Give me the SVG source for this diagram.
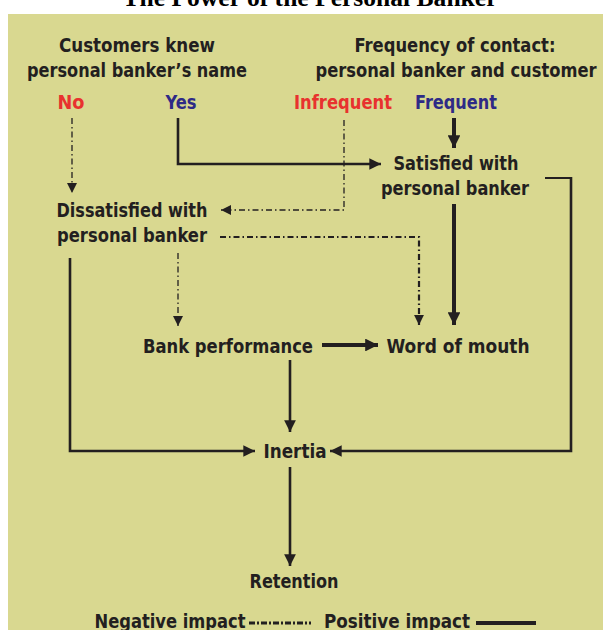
<svg xmlns="http://www.w3.org/2000/svg" width="603" height="630" viewBox="0 0 603 630">
<style>
.t{font-family:"Liberation Sans Narrow","DejaVu Sans Condensed","Liberation Sans",sans-serif;font-weight:bold;font-size:20px;fill:#231f20;text-anchor:middle}
.red{fill:#e8322e}.blue{fill:#2e2a86}
.s{fill:none;stroke:#231f20;stroke-width:2.6}
.sb{fill:none;stroke:#231f20;stroke-width:4}
.d{fill:none;stroke:#231f20;stroke-width:1.3;stroke-dasharray:6,3,1.5,3}
.d2{fill:none;stroke:#231f20;stroke-width:2.2;stroke-dasharray:6,3,1.5,3}
</style>
<defs>
<marker id="a" viewBox="0 0 10 10" refX="10" refY="5" markerWidth="4.5" markerHeight="4.5" markerUnits="strokeWidth" orient="auto"><path d="M0,0L10,5L0,10z" fill="#231f20"/></marker>
<marker id="ab" viewBox="0 0 10 10" refX="10" refY="5" markerWidth="3.2" markerHeight="3.2" markerUnits="strokeWidth" orient="auto"><path d="M0,0L10,5L0,10z" fill="#231f20"/></marker>
<marker id="ad" viewBox="0 0 10 10" refX="10" refY="5" markerWidth="8" markerHeight="8" markerUnits="strokeWidth" orient="auto"><path d="M0,0L10,5L0,10z" fill="#231f20"/></marker>
<marker id="ad2" viewBox="0 0 10 10" refX="10" refY="5" markerWidth="4.5" markerHeight="4.5" markerUnits="strokeWidth" orient="auto"><path d="M0,0L10,5L0,10z" fill="#231f20"/></marker>
</defs>
<rect x="0" y="0" width="603" height="630" fill="#ffffff"/>
<text x="310" y="6" font-family="Liberation Serif,serif" font-weight="bold" font-size="25" text-anchor="middle" fill="#000" textLength="375" lengthAdjust="spacingAndGlyphs">The Power of the Personal Banker</text>
<rect x="8" y="14" width="595" height="616" fill="#d9d890"/>
<g id="headers">
<text class="t" x="137" y="52" textLength="156" lengthAdjust="spacingAndGlyphs">Customers knew</text>
<text class="t" x="137" y="77" textLength="220" lengthAdjust="spacingAndGlyphs">personal banker’s name</text>
<text class="t" x="455" y="52" textLength="201" lengthAdjust="spacingAndGlyphs">Frequency of contact:</text>
<text class="t" x="456" y="77" textLength="281" lengthAdjust="spacingAndGlyphs">personal banker and customer</text>
</g>
<g id="no"><text class="t red" x="71" y="109" textLength="27" lengthAdjust="spacingAndGlyphs">No</text></g>
<g id="yes"><text class="t blue" x="181" y="109" textLength="31" lengthAdjust="spacingAndGlyphs">Yes</text></g>
<g id="infrequent"><text class="t red" x="343" y="109" textLength="98" lengthAdjust="spacingAndGlyphs">Infrequent</text></g>
<g id="frequent"><text class="t blue" x="456" y="109" textLength="82" lengthAdjust="spacingAndGlyphs">Frequent</text></g>
<g id="satisfied"><text class="t" x="456" y="170" textLength="125" lengthAdjust="spacingAndGlyphs">Satisfied with</text><text class="t" x="455" y="195" textLength="148" lengthAdjust="spacingAndGlyphs">personal banker</text></g>
<g id="dissatisfied"><text class="t" x="132" y="217" textLength="151" lengthAdjust="spacingAndGlyphs">Dissatisfied with</text><text class="t" x="132" y="242" textLength="150" lengthAdjust="spacingAndGlyphs">personal banker</text></g>
<g id="bank"><text class="t" x="228" y="353" textLength="170" lengthAdjust="spacingAndGlyphs">Bank performance</text></g>
<g id="word"><text class="t" x="458" y="353" textLength="143" lengthAdjust="spacingAndGlyphs">Word of mouth</text></g>
<g id="inertia"><text class="t" x="295" y="458" textLength="63" lengthAdjust="spacingAndGlyphs">Inertia</text></g>
<g id="retention"><text class="t" x="294" y="588" textLength="89" lengthAdjust="spacingAndGlyphs">Retention</text></g>
<g id="legend">
<text class="t" x="170" y="628" textLength="151" lengthAdjust="spacingAndGlyphs">Negative impact</text>
<line x1="249" y1="623" x2="311" y2="623" stroke="#231f20" stroke-width="3" stroke-dasharray="6,2,2,2"/>
<text class="t" x="397" y="628" textLength="146" lengthAdjust="spacingAndGlyphs">Positive impact</text>
<line x1="476" y1="623" x2="536" y2="623" stroke="#231f20" stroke-width="4"/>
</g>
<g id="connectors">
<path class="d" d="M72,118V193" marker-end="url(#ad)"/>
<path class="s" d="M178,118V164H381" marker-end="url(#a)"/>
<path class="sb" d="M454,118V148" marker-end="url(#ab)"/>
<path class="d" d="M344,120V210H221" marker-end="url(#ad)"/>
<path fill="none" stroke="#231f20" stroke-width="2" d="M545,178H571"/>
<path class="s" d="M571,177V451H330" marker-end="url(#a)"/>
<path class="sb" d="M454,204V325" marker-end="url(#ab)"/>
<path class="d2" d="M220,237H419V325" marker-end="url(#ad2)"/>
<path class="d" d="M178,253V326" marker-end="url(#ad)"/>
<path class="s" d="M70,258V451H255" marker-end="url(#a)"/>
<path class="sb" d="M322,345H378" marker-end="url(#ab)"/>
<path class="s" d="M290,360V432" marker-end="url(#a)"/>
<path class="s" d="M290,467V566" marker-end="url(#a)"/>
</g>
</svg>
